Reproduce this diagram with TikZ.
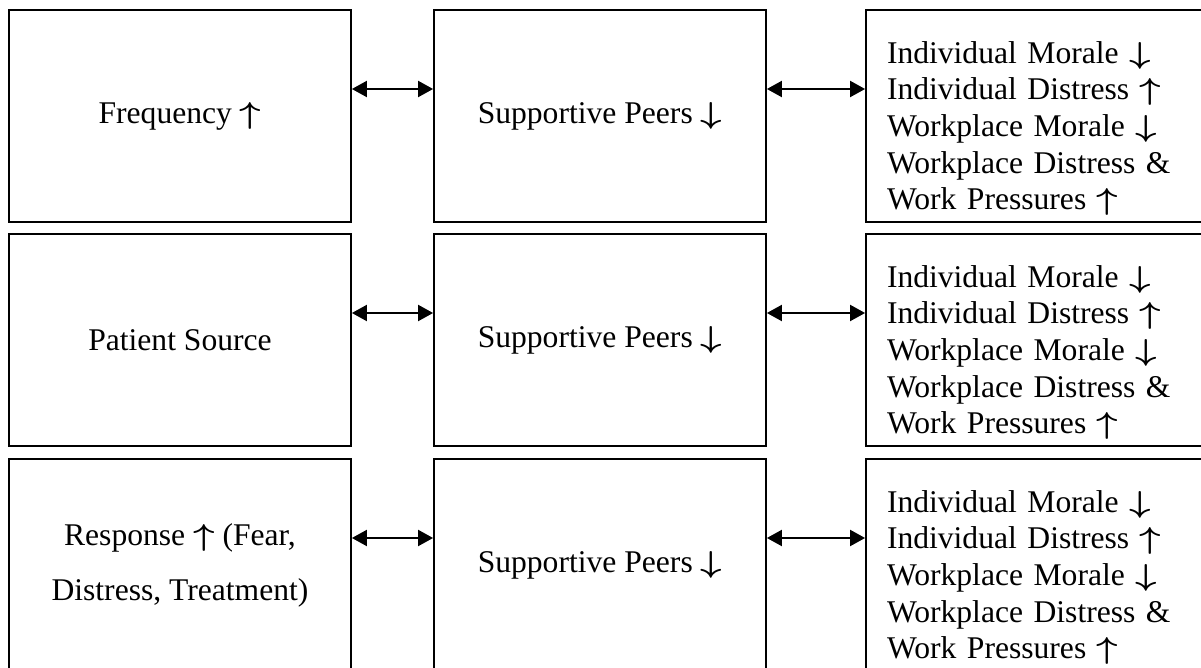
\documentclass[tikz,border=0pt]{standalone}
\usepackage{fontspec}
\usepackage{graphicx}
\setmainfont{Liberation Serif}
\usetikzlibrary{arrows.meta}

\newcommand{\upar}{\scalebox{1.3}[1.05]{\boldmath$\uparrow$}}
\newcommand{\dnar}{\scalebox{1.3}[1.05]{\boldmath$\downarrow$}}

\begin{document}
\begin{tikzpicture}[x=0.5pt,y=-0.5pt,
  box/.style={draw,line width=0.9pt,minimum height=106pt,inner sep=0pt,
    font=\fontsize{15.8}{27.5}\selectfont,align=center},
  outbox/.style={box,minimum width=169pt,text width=148pt,align=left,
    font=\fontsize{15.8}{18.35}\selectfont,text height=23.5pt},
  link/.style={<->,>={Triangle[length=7.5pt,width=8pt]},line width=1pt}]
  \useasboundingbox (0,0) rectangle (1201,668);
  \foreach \r/\y/\src in {1/116/{Frequency \upar},2/340/{Patient Source},3/565/{Response \upar{} (Fear,\\Distress, Treatment)}}
  {
    \node[box,minimum width=171pt] (src\r) at (180,\y) {\src};
    \node[box,minimum width=166pt] (peer\r) at (600,\y) {Supportive Peers \dnar};
    \node[outbox] (out\r) at (1035,\y) {Individual Morale \dnar\\Individual Distress \upar\\Workplace Morale \dnar\\Workplace Distress \&\\Work Pressures \upar};
    \draw[link] ([yshift=13.5pt]src\r.east) -- ([yshift=13.5pt]peer\r.west);
    \draw[link] ([yshift=13.5pt]peer\r.east) -- ([yshift=13.5pt]out\r.west);
  }
\end{tikzpicture}
\end{document}
